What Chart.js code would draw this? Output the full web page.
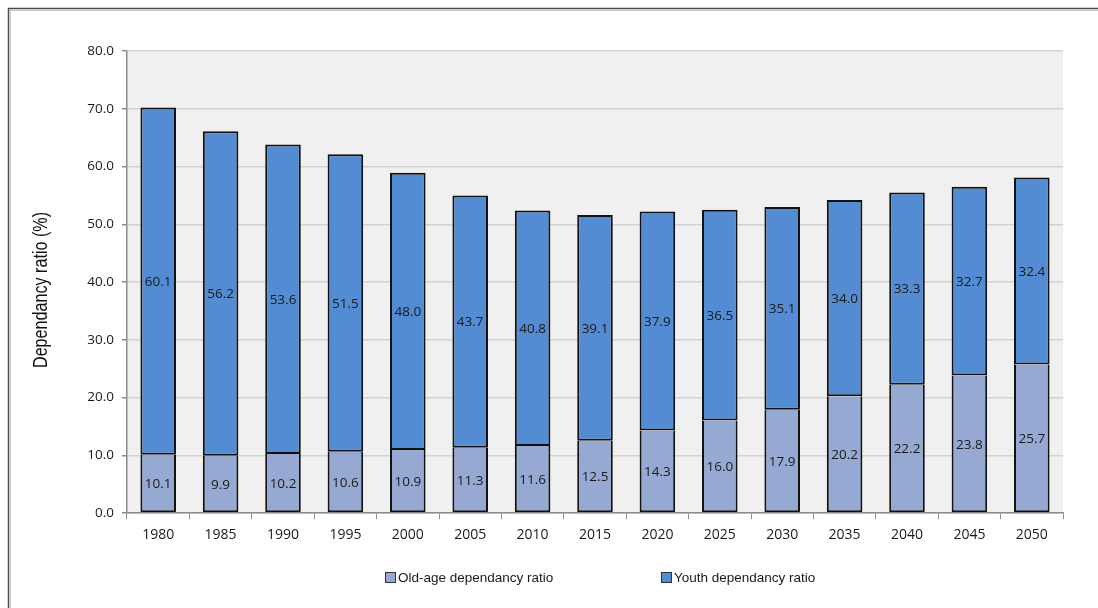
<!DOCTYPE html>
<html>
<head>
<meta charset="utf-8">
<title>Dependancy ratio, 1980–2050</title>
<script src="https://cdn.jsdelivr.net/npm/chart.js@4.4.1/dist/chart.umd.min.js"></script>
<style>
  html, body { margin: 0; padding: 0; background: #ffffff; overflow: hidden; }
  #wrap { position: relative; width: 1098px; height: 608px; }
  canvas { display: block; }
</style>
</head>
<body>
<div id="wrap"><canvas id="chart" width="1098" height="608"></canvas></div>
<script>
// Five-yearly years shown on the horizontal axis
const years = ['1980', '1985', '1990', '1995', '2000', '2005', '2010', '2015',
               '2020', '2025', '2030', '2035', '2040', '2045', '2050'];

// Old-age dependancy ratio (%)
const oldAgeRatio = [10.1, 9.9, 10.2, 10.6, 10.9, 11.3, 11.6, 12.5,
                     14.3, 16.0, 17.9, 20.2, 22.2, 23.8, 25.7];

// Youth dependancy ratio (%)
const youthRatio = [60.1, 56.2, 53.6, 51.5, 48.0, 43.7, 40.8, 39.1,
                    37.9, 36.5, 35.1, 34.0, 33.3, 32.7, 32.4];

// Series names
const seriesNames = ['Old-age dependancy ratio', 'Youth dependancy ratio'];

// Value axis range and title
const yMin = 0;
const yMax = 80;
const yStep = 10;
const yTitle = 'Dependancy ratio (%)';

const tickFamily = "'Open Sans', 'DejaVu Sans', sans-serif";
const xTickFont = { family: tickFamily, size: 14 };
const yTickFont = { family: tickFamily, size: 13.5 };

// Outer frame and grey plot background
const framePlugin = {
  id: 'frame',
  beforeDraw(chart) {
    const { ctx, chartArea } = chart;
    ctx.save();
    ctx.fillStyle = '#ffffff';
    ctx.fillRect(0, 0, chart.width, chart.height);
    ctx.strokeStyle = '#4a4a4a';
    ctx.lineWidth = 1.5;
    ctx.strokeRect(8.5, 8.5, chart.width + 50, chart.height + 50);
    ctx.strokeStyle = '#c8c8c8';
    ctx.lineWidth = 1;
    ctx.strokeRect(10.5, 10.5, chart.width + 50, chart.height + 50);
    ctx.fillStyle = '#f0f0f0';
    ctx.fillRect(chartArea.left, chartArea.top,
                 chartArea.right - chartArea.left, chartArea.bottom - chartArea.top);
    ctx.restore();
  }
};

// Value written in the middle of each bar segment
const segmentLabels = {
  id: 'segmentLabels',
  afterDatasetsDraw(chart) {
    const { ctx } = chart;
    ctx.save();
    ctx.font = `13.5px ${tickFamily}`;
    ctx.fillStyle = '#1a1a1a';
    ctx.textAlign = 'center';
    ctx.textBaseline = 'middle';
    chart.data.datasets.forEach((ds, di) => {
      const meta = chart.getDatasetMeta(di);
      meta.data.forEach((bar, i) => {
        const p = bar.getProps(['x', 'y', 'base'], true);
        ctx.fillText(ds.data[i].toFixed(1), p.x, (p.y + p.base) / 2 + 1);
      });
    });
    ctx.restore();
  }
};

// Condensed, rotated title for the value axis
const axisTitle = {
  id: 'axisTitle',
  afterDraw(chart) {
    const { ctx } = chart;
    ctx.save();
    ctx.font = "20px 'Liberation Sans', Arial, sans-serif";
    ctx.fillStyle = '#111111';
    ctx.textAlign = 'center';
    ctx.textBaseline = 'middle';
    const w = ctx.measureText(yTitle).width;
    ctx.translate(41, 290);
    ctx.rotate(-Math.PI / 2);
    ctx.scale(156 / w, 1);
    ctx.fillText(yTitle, 0, 0);
    ctx.restore();
  }
};

// Legend row under the axis, one entry per dataset
const legendRow = {
  id: 'legendRow',
  afterDraw(chart) {
    const { ctx } = chart;
    const starts = [385, 661];
    const y = 577;
    ctx.save();
    ctx.font = "13.5px 'Liberation Sans', Arial, sans-serif";
    ctx.textBaseline = 'middle';
    ctx.textAlign = 'left';
    chart.data.datasets.forEach((ds, i) => {
      const x = starts[i];
      ctx.fillStyle = ds.backgroundColor;
      ctx.fillRect(x, y - 5, 10, 10);
      ctx.strokeStyle = '#333333';
      ctx.lineWidth = 1;
      ctx.strokeRect(x + 0.5, y - 4.5, 10, 10);
      ctx.fillStyle = '#1a1a1a';
      ctx.fillText(ds.label, x + 13, y + 1);
    });
    ctx.restore();
  }
};

new Chart(document.getElementById('chart'), {
  type: 'bar',
  data: {
    labels: years,
    datasets: [
      {
        label: seriesNames[0],
        data: oldAgeRatio,
        backgroundColor: '#95a9d2',
        borderColor: '#111111',
        borderWidth: 2,
        borderSkipped: 'top'
      },
      {
        label: seriesNames[1],
        data: youthRatio,
        backgroundColor: '#538cd3',
        borderColor: '#111111',
        borderWidth: 2,
        borderSkipped: false
      }
    ]
  },
  options: {
    responsive: false,
    animation: false,
    devicePixelRatio: 1,
    barPercentage: 0.57,
    categoryPercentage: 1.0,
    layout: { padding: { top: 51, right: 35, bottom: 47, left: 22 } },
    plugins: {
      legend: { display: false },
      tooltip: { enabled: false }
    },
    scales: {
      x: {
        stacked: true,
        offset: true,
        grid: {
          offset: true,
          drawOnChartArea: false,
          drawTicks: true,
          tickLength: 6,
          tickColor: '#8c8c8c',
          color: '#8c8c8c'
        },
        border: { color: '#8c8c8c', width: 1.5 },
        ticks: { font: xTickFont, color: '#1a1a1a', padding: 8, maxRotation: 0 },
        afterFit(scale) { scale.height = 48; }
      },
      y: {
        stacked: true,
        min: yMin,
        max: yMax,
        grid: {
          color: '#d2d2d2',
          lineWidth: 1.5,
          drawTicks: true,
          tickLength: 5,
          tickColor: '#8c8c8c'
        },
        border: { color: '#8c8c8c', width: 1.5 },
        ticks: {
          stepSize: yStep,
          font: yTickFont,
          color: '#1a1a1a',
          padding: 8,
          callback: v => Number(v).toFixed(1)
        },
        afterFit(scale) { scale.width = 105; }
      }
    }
  },
  plugins: [framePlugin, segmentLabels, axisTitle, legendRow]
});
</script>
</body>
</html>
